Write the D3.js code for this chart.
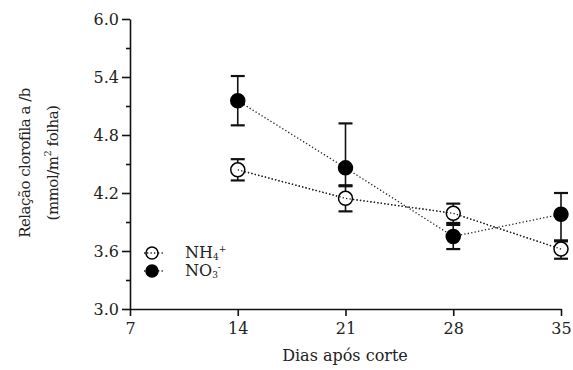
<!DOCTYPE html>
<html><head><meta charset="utf-8">
<script src="https://cdn.jsdelivr.net/npm/d3@7"></script>
<style>body{margin:0;background:#fff}</style>
</head><body><svg id="c" width="573" height="370"></svg>
<script>
const days = [14, 21, 28, 35];
const nh4Mean = [4.44, 4.145, 3.99, 3.62];
const nh4Low  = [4.33, 4.01, 3.89, 3.52];
const nh4High = [4.55, 4.28, 4.09, 3.70];
const no3Mean = [5.155, 4.46, 3.75, 3.98];
const no3Low  = [4.90, 4.27, 3.62, 3.71];
const no3High = [5.41, 4.92, 3.87, 4.20];
const xTicks = [7, 14, 21, 28, 35];
const yTicks = [3.0, 3.6, 4.2, 4.8, 5.4, 6.0];
const yMinor = [3.3, 3.9, 4.5, 5.1, 5.7];

const FONT = "'DejaVu Serif', serif";
const svg = d3.select("#c");
const x = d3.scaleLinear().domain([7, 35]).range([130, 561]);
const y = d3.scaleLinear().domain([3, 6]).range([309, 19]);

const xa = svg.append("g").attr("transform", "translate(0,309)")
  .call(d3.axisBottom(x).tickValues(xTicks).tickFormat(d3.format("d")).tickSize(7).tickSizeOuter(0));
const ya = svg.append("g").attr("transform", "translate(130,0)")
  .call(d3.axisLeft(y).tickValues(yTicks).tickFormat(d3.format(".1f")).tickSize(8).tickSizeOuter(0));
svg.append("g").attr("transform", "translate(130,0)")
  .call(d3.axisLeft(y).tickValues(yMinor).tickFormat("").tickSize(4).tickSizeOuter(0))
  .select(".domain").remove();
[xa, ya].forEach(a => {
  a.attr("font-family", FONT).attr("font-size", 16);
  a.selectAll("text").attr("fill", "#222");
});
svg.selectAll("g path, g line").attr("stroke", "#111").attr("stroke-width", 1.6);
xa.selectAll("text").attr("dy", "0.95em");

svg.append("text").attr("x", 345).attr("y", 361).attr("text-anchor", "middle")
  .attr("font-family", FONT).attr("font-size", 16).attr("fill", "#222").text("Dias após corte");
const yt = svg.append("text").attr("transform", "translate(0,163) rotate(-90)")
  .attr("text-anchor", "middle").attr("font-family", FONT).attr("font-size", 15)
  .attr("letter-spacing", -0.5).attr("fill", "#222");
yt.append("tspan").attr("x", 0).attr("y", 30).text("Relação clorofila a /b");
const t2 = yt.append("tspan").attr("x", 0).attr("y", 58);
t2.append("tspan").text("(mmol/m");
t2.append("tspan").attr("dy", -7).attr("font-size", 10).text("2");
t2.append("tspan").attr("dy", 7).text(" folha)");

function dotted(sel) {
  return sel.attr("fill", "none").attr("stroke", "#222").attr("stroke-width", 1.3).attr("stroke-dasharray", "1.3,2.2");
}
function series(mean, lo, hi, filled) {
  const g = svg.append("g");
  const pts = days.map((d, i) => [x(d), y(mean[i])]);
  dotted(g.append("path").attr("d", d3.line()(pts)));
  days.forEach((d, i) => {
    const cx = x(d);
    g.append("line").attr("x1", cx).attr("x2", cx).attr("y1", y(lo[i])).attr("y2", y(hi[i]))
      .attr("stroke", "#111").attr("stroke-width", 1.6);
    [lo[i], hi[i]].forEach(v => g.append("line").attr("x1", cx - 7).attr("x2", cx + 7)
      .attr("y1", y(v)).attr("y2", y(v)).attr("stroke", "#111").attr("stroke-width", 2.2));
  });
  g.selectAll("circle").data(pts).enter().append("circle")
    .attr("cx", d => d[0]).attr("cy", d => d[1]).attr("r", 7)
    .attr("fill", filled ? "#000" : "#fff").attr("stroke", "#000").attr("stroke-width", 1.5);
  if (!filled) dotted(g.append("path").attr("d", d3.line()(pts)));
}
series(nh4Mean, nh4Low, nh4High, false);
series(no3Mean, no3Low, no3High, true);

const leg = [{lab: "NH", sub: "4", sup: "+", filled: false, yy: 253},
             {lab: "NO", sub: "3", sup: "-", filled: true, yy: 271}];
leg.forEach(l => {
  dotted(svg.append("line").attr("x1", 144).attr("x2", 163).attr("y1", l.yy).attr("y2", l.yy));
  svg.append("circle").attr("cx", 152).attr("cy", l.yy).attr("r", 6)
    .attr("fill", l.filled ? "#000" : "#fff").attr("stroke", "#000").attr("stroke-width", 1.5);
  if (!l.filled) dotted(svg.append("line").attr("x1", 147).attr("x2", 158).attr("y1", l.yy).attr("y2", l.yy));
  const t = svg.append("text").attr("x", 185).attr("y", l.yy + 5).attr("font-family", FONT)
    .attr("font-size", 16).attr("fill", "#222");
  t.append("tspan").text(l.lab);
  t.append("tspan").attr("dy", 2).attr("font-size", 9).text(l.sub);
  t.append("tspan").attr("dy", -8).attr("font-size", 9).text(l.sup);
});
</script></body></html>
